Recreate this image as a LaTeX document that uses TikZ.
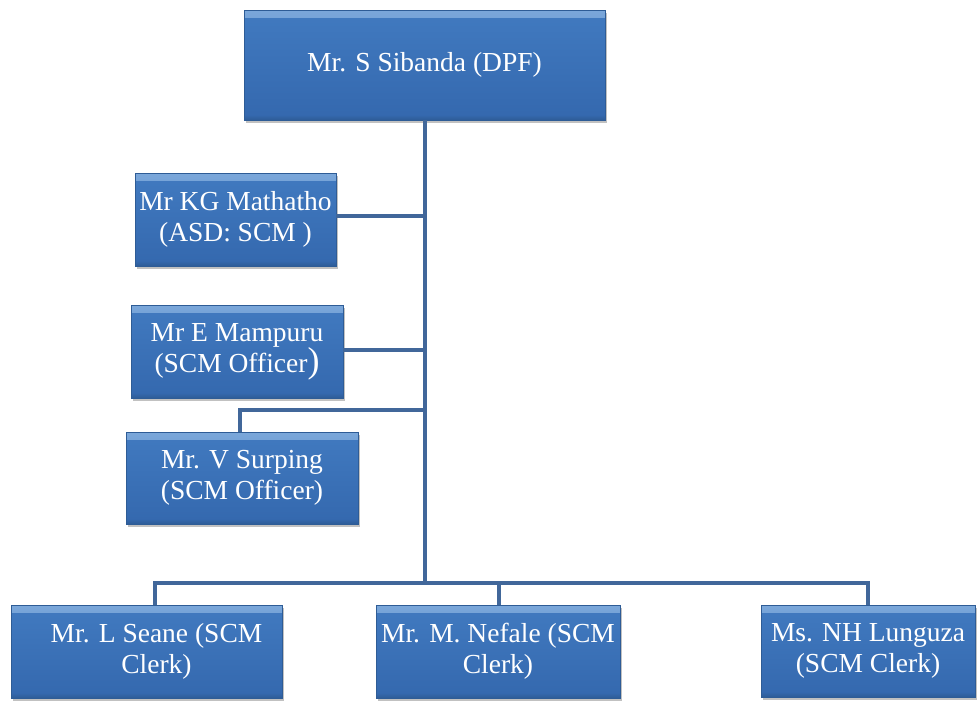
\documentclass[tikz,border=0pt]{standalone}
\usepackage{fontspec}
\setmainfont{Liberation Serif}
\usetikzlibrary{shadows}
\definecolor{boxtop}{HTML}{417AC0}
\definecolor{boxbot}{HTML}{3468AE}
\definecolor{boxhi}{HTML}{7BA7DA}
\definecolor{boxedge}{HTML}{2E5C96}
\definecolor{wire}{HTML}{41679A}
\tikzset{
  person/.style={rectangle, draw=boxedge, line width=0.8pt,
    top color=boxtop, bottom color=boxbot,
    text=white, align=center, inner sep=2pt,
    font=\fontsize{27.5}{31}\selectfont,
    path picture={
      \fill[top color=boxhi, bottom color=boxtop]
        (path picture bounding box.north west) rectangle
        ([yshift=-7pt]path picture bounding box.north east);
      \fill[top color=boxbot, bottom color=boxedge]
        ([yshift=5pt]path picture bounding box.south west) rectangle
        (path picture bounding box.south east);
    },
    drop shadow={shadow xshift=2pt, shadow yshift=-3pt, opacity=0.35, fill=black!70}},
  link/.style={draw=wire, line width=4pt}
}
\begin{document}
\begin{tikzpicture}[x=1pt, y=-1pt]
  \useasboundingbox (0,0) rectangle (977,702);

  % people
  \node[person, minimum width=361pt, minimum height=110pt] (dpf) at (424.5,65) {Mr. S Sibanda (DPF)};
  \node[person, minimum width=201pt, minimum height=93pt] (asd) at (235.5,219.5) {Mr KG Mathatho\\(ASD: SCM )};
  \node[person, minimum width=212pt, minimum height=93pt] (off1) at (237,351.5) {Mr E Mampuru\\(SCM Officer{\fontsize{36}{31}\selectfont )}};
  \node[person, minimum width=232pt, minimum height=92pt] (off2) at (242,478) {Mr. V Surping\\(SCM Officer)};
  \node[person, minimum width=271pt, minimum height=93pt] (clk1) at (146.5,651.5) {\hspace*{20pt}Mr. L Seane (SCM\\\hspace*{20pt}Clerk)};
  \node[person, minimum width=244pt, minimum height=93pt] (clk2) at (498,651.5) {Mr. M. Nefale (SCM\\Clerk)};
  \node[person, minimum width=214pt, minimum height=92pt] (clk3) at (868,651) {Ms. NH Lunguza\\(SCM Clerk)};

  % junction points
  \coordinate (bus) at (425,583);
  \coordinate (busl) at (155,583);
  \coordinate (busr) at (868,583);
  \coordinate (offj) at (240,410);

  % connectors
  \draw[link] (dpf.south -| bus) -- (bus);
  \draw[link] ([yshift=3.5pt]asd.east) -- ([yshift=3.5pt]asd.east -| bus);
  \draw[link] ([yshift=1.5pt]off1.east) -- ([yshift=1.5pt]off1.east -| bus);
  \draw[link] (off2.north -| offj) -- (offj) -- (offj -| bus);
  \draw[link] (clk1.north -| busl) -- (busl) -- (busr) -- (clk3.north -| busr);
  \draw[link] (clk2.north -| 499,0) -- (499,583);
\end{tikzpicture}
\end{document}
